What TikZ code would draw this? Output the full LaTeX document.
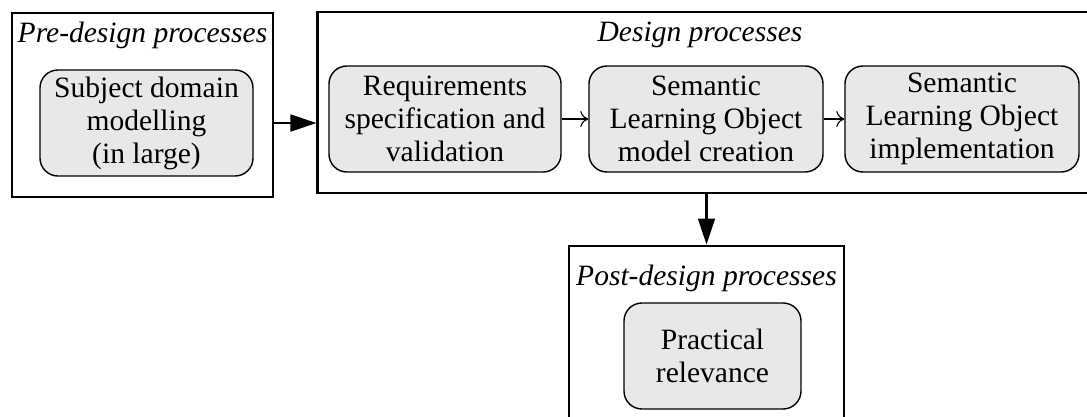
\documentclass[tikz,border=0pt]{standalone}
\usepackage{fontspec}
\setmainfont{Liberation Serif}
\usetikzlibrary{arrows.meta}
\tikzset{proc/.style={draw, line width=1pt, fill=gray!18, rounded corners=0.45cm, align=center,
    minimum height=2.65cm, inner sep=0pt, font=\fontsize{21}{23.5}\selectfont},
  group/.style={draw, line width=2pt, inner sep=0pt},
  grouplabel/.style={font=\fontsize{21}{23.5}\selectfont\itshape, inner sep=0pt},
  bigarrow/.style={line width=1.6pt, -{Triangle[length=0.65cm,width=0.42cm]}},
  smallarrow/.style={line width=0.8pt, -{To[length=0.2cm,width=0.4cm]}}}

\begin{document}
\begin{tikzpicture}[x=0.025cm,y=-0.025cm]

    \useasboundingbox (0,0) rectangle (1087,416);
    \clip (0,0) rectangle (1087,416);

    % process groups
    \node[group, minimum width=6.525cm, minimum height=4.6cm] (pre) at (142.5,105) {};
    \node[group, minimum width=19.55cm, minimum height=4.525cm] (design) at (709,102.5) {};
    \node[group, minimum width=6.875cm, minimum height=4.85cm] (post) at (706.5,343) {};

    \node[grouplabel] (prelabel) at (142.5,35) {Pre-design processes};
    \node[grouplabel] (designlabel) at (700,35) {Design processes};
    \node[grouplabel] (postlabel) at (706.5,278) {Post-design processes};

    % processes
    \node[proc, minimum width=5.325cm] (sdm) at (146.5,123) {Subject domain\\modelling\\(in large)};
    \node[proc, minimum width=5.8cm] (req) at (445,119) {Requirements\\specification and\\validation};
    \node[proc, minimum width=5.85cm] (slo) at (706,119) {Semantic\\Learning Object\\model creation};
    \node[proc, minimum width=5.85cm] (impl) at (962,119) {Semantic\\Learning Object\\implementation};
    \node[proc, minimum width=4.425cm] (prac) at (712.5,356) {Practical\\relevance};

    \draw[bigarrow] (sdm.east -| pre.east) -- (sdm.east -| design.west);
    \draw[bigarrow] (design.south -| post.north) -- (post.north);

    \draw[smallarrow] (req) -- (slo);
    \draw[smallarrow] (slo) -- (impl);

  \end{tikzpicture}
\end{document}
